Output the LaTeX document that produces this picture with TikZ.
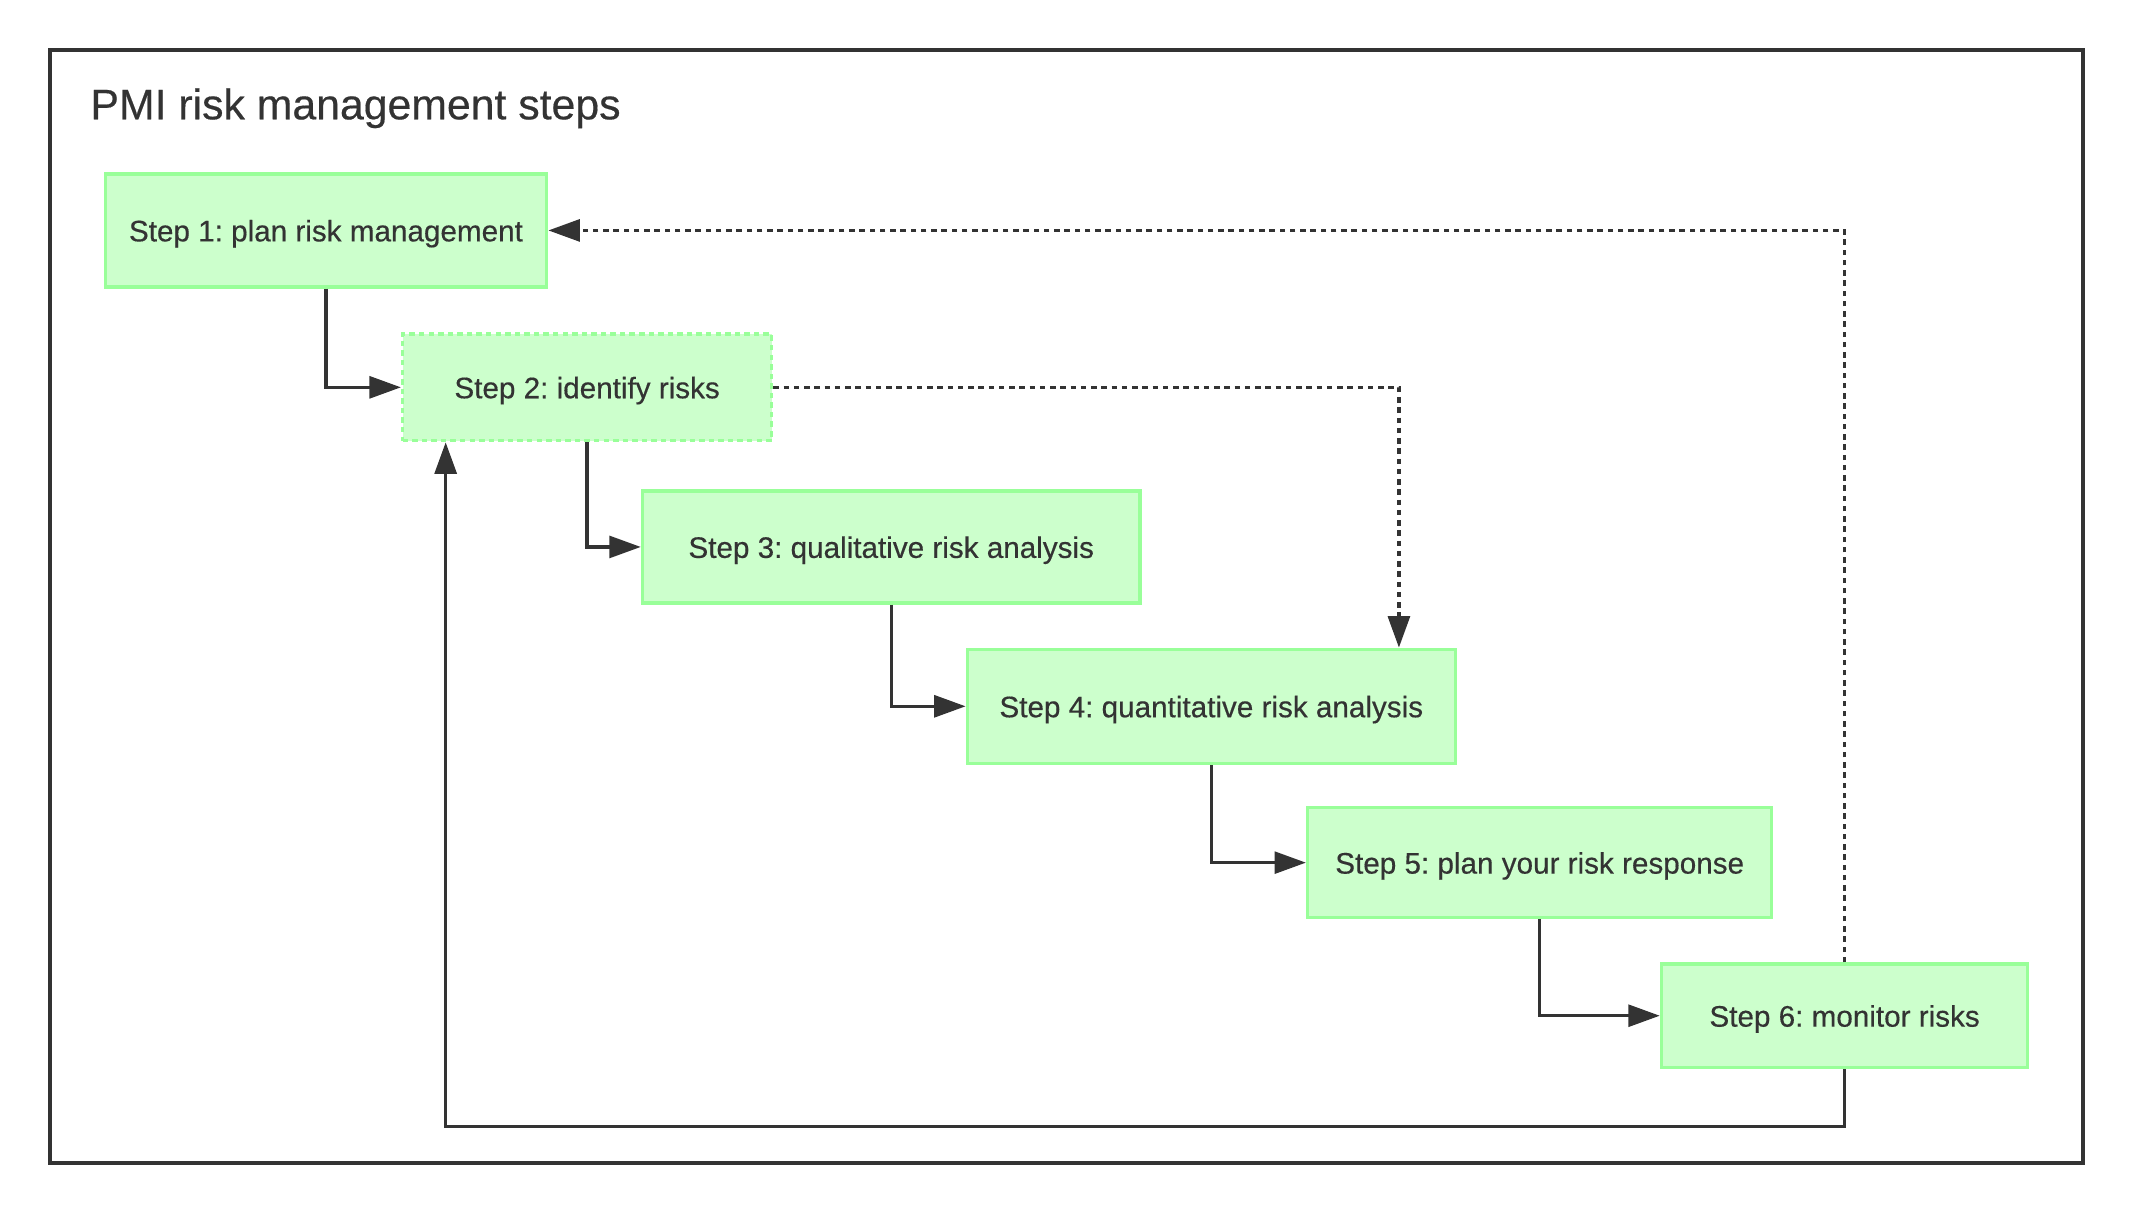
\documentclass[tikz,border=0pt]{standalone}
\usepackage{fontspec}
\setmainfont{Liberation Sans}
\newfontfamily\medsans{Liberation Sans}[FakeBold=0.4]
\usetikzlibrary{arrows.meta}
\definecolor{nodefill}{HTML}{CCFFCC}
\definecolor{nodeline}{HTML}{99FF99}
\definecolor{ink}{HTML}{333333}
\frenchspacing
\begin{document}
\frenchspacing
\begin{tikzpicture}[x=1pt,y=-1pt,
  stepbox/.style={draw=nodeline, fill=nodefill, line width=2.5pt, text=ink,
    font=\medsans\fontsize{21.7}{26}\selectfont, inner sep=0pt,
    text height=16pt, text depth=0pt},
  conn/.style={draw=ink, line width=2.4pt, -{Triangle[length=23pt,width=16pt]}},
  dotconn/.style={conn, dash pattern=on 4pt off 3.5pt}]
\useasboundingbox (0,0) rectangle (1560,886.8);
\draw[ink, line width=2.5pt] (36.7,36.7) rectangle (1524.1,851);
\node[anchor=base west, text=ink, font=\medsans\fontsize{31.3}{36}\selectfont, inner sep=0pt] (title) at (66,87.3) {PMI risk management steps};
\node[stepbox, minimum width=323pt, minimum height=82.7pt] (s1) at (238.5,168.6) {Step 1: plan risk management};
\node[stepbox, dash pattern=on 4pt off 3pt, minimum width=270pt, minimum height=78pt] (s2) at (429.6,283.4) {Step 2: identify risks};
\node[stepbox, minimum width=364pt, minimum height=82pt] (s3) at (652.1,400.2) {Step 3: qualitative risk analysis};
\node[stepbox, minimum width=357pt, minimum height=83.4pt] (s4) at (886.3,516.8) {Step 4: quantitative risk analysis};
\node[stepbox, minimum width=339.6pt, minimum height=80.5pt] (s5) at (1126.6,631.2) {Step 5: plan your risk response};
\node[stepbox, minimum width=268pt, minimum height=75.6pt] (s6) at (1349.7,743.2) {Step 6: monitor risks};
\coordinate (loop) at (326.1,824.2);
\coordinate (drop) at (1023.6,0);
\draw[conn] (s1.south) |- (s2.west);
\draw[conn] (s2.south) |- (s3.west);
\draw[conn] (s3.south) |- (s4.west);
\draw[conn] (s4.south) |- (s5.west);
\draw[conn] (s5.south) |- (s6.west);
\draw[conn] (s6.south) |- (loop) -- (s2.south -| loop);
\draw[dotconn] (s2.east) -| (s4.north -| drop);
\draw[dotconn] (s6.north) |- (s1.east);
\end{tikzpicture}
\end{document}
